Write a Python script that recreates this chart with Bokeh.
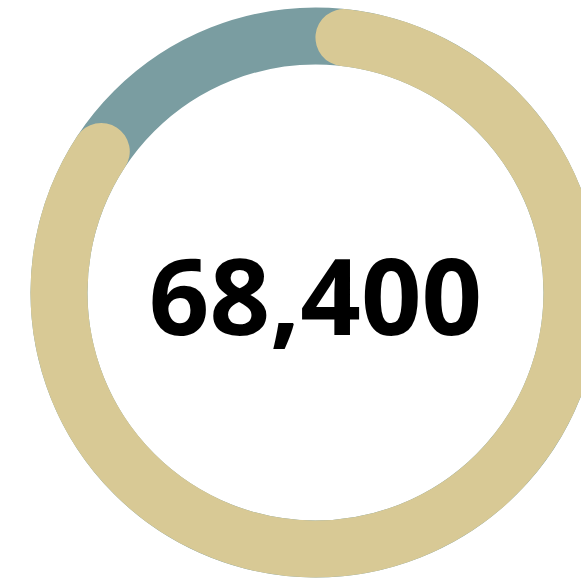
import math
from bokeh.plotting import figure
from bokeh.models import Range1d
from bokeh.core.properties import value
from bokeh.embed import file_html
from bokeh.resources import INLINE

# ---- data ----
segments = ["filled", "remaining"]
shares = [0.825, 0.175]
center_label = "68,400"

# ---- layout ----
W, H = 581, 578
cx, cy = 315, 286
mid_r = 256.5
ring_w = 57

teal = "#7a9da1"
gold = "#d8c995"

p = figure(width=W, height=H, output_backend="svg", toolbar_location=None,
           x_range=Range1d(0, W), y_range=Range1d(0, H), min_border=0)
p.axis.visible = False
p.grid.visible = False
p.outline_line_color = None
p.background_fill_color = "white"
p.border_fill_color = "white"

# background ring
p.arc(x=[cx], y=[cy], radius=mid_r, start_angle=0, end_angle=2 * math.pi,
      line_color=teal, line_width=ring_w)

# filled arc, starting so that its round cap touches the top
cap = (ring_w / 2) / mid_r
start = math.pi / 2 - cap
end = start - shares[0] * 2 * math.pi
p.arc(x=[cx], y=[cy], radius=mid_r, start_angle=start, end_angle=end,
      direction="clock", line_color=gold, line_width=ring_w, line_cap="round")

p.text(x=[315], y=[282], text=[center_label], text_align="center",
       text_baseline="alphabetic", text_font=value("Open Sans"),
       text_font_style="bold", text_font_size="106px", text_color="black")

open("out.html", "w").write(file_html(p, INLINE))
